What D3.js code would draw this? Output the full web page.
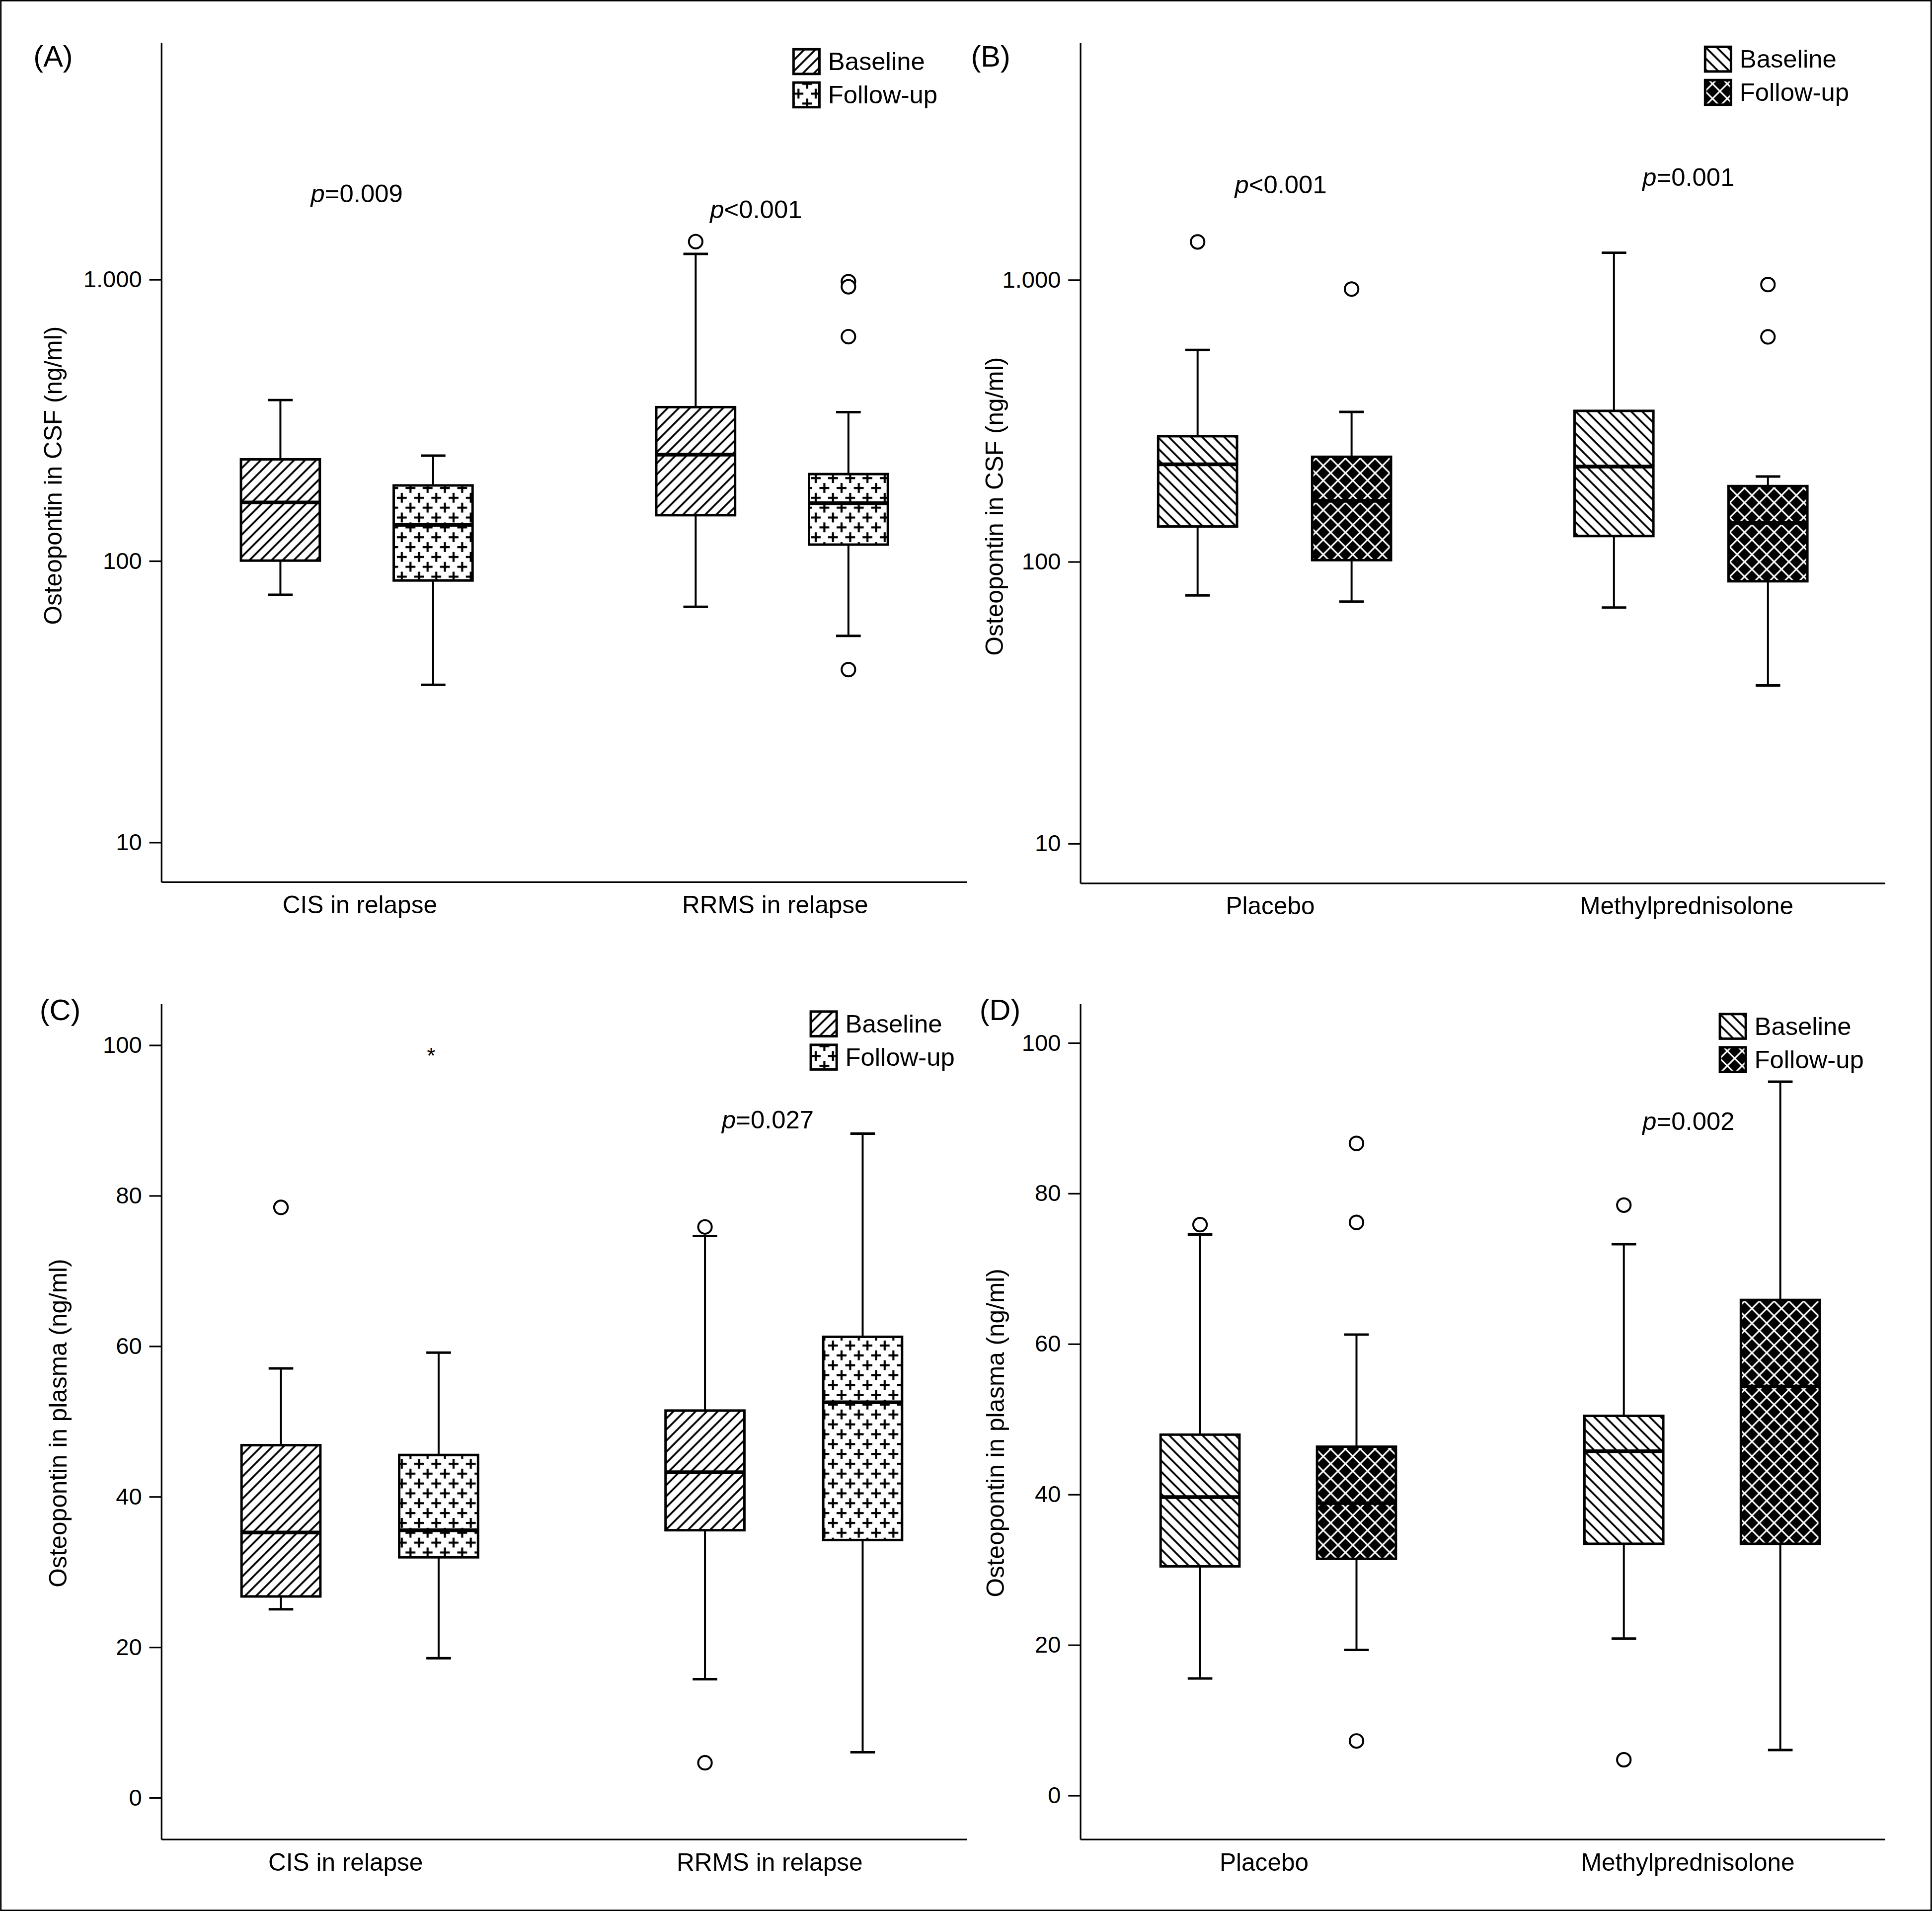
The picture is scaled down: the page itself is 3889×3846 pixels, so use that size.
<!DOCTYPE html>
<html><head><meta charset="utf-8">
<script src="https://cdn.jsdelivr.net/npm/d3@7"></script>
<style>body{margin:0;background:#fff}text{font-family:"Liberation Sans",Arial,sans-serif;fill:#000}</style>
</head><body>
<script>
// data (stats per box: lo whisker, q1, median, q3, hi whisker, outliers)
var groupsAC = ["CIS in relapse", "RRMS in relapse"];
var groupsBD = ["Placebo", "Methylprednisolone"];
var seriesAC = ["Baseline", "Follow-up"];
var logTicks = [10, 100, 1000];
var linTicks = [0, 20, 40, 60, 80, 100];

var boxesA = [
  {g:0, s:0, lo:75.6, q1:100, med:161, q3:229, hi:372, out:[]},
  {g:0, s:1, lo:36.2, q1:85, med:134, q3:185, hi:236, out:[]},
  {g:1, s:0, lo:68.5, q1:145, med:238, q3:351, hi:1230, out:[1360]},
  {g:1, s:1, lo:54, q1:114, med:160, q3:203, hi:337, out:[980, 940, 625, 41]}
];
var boxesB = [
  {g:0, s:0, lo:75.7, q1:133, med:221, q3:278, hi:563, out:[1360]},
  {g:0, s:1, lo:72, q1:101, med:164, q3:235, hi:339, out:[925]},
  {g:1, s:0, lo:68.6, q1:123, med:217, q3:342, hi:1245, out:[]},
  {g:1, s:1, lo:36.3, q1:85, med:137, q3:185, hi:200, out:[960, 626]}
];
var boxesC = [
  {g:0, s:0, lo:25.0, q1:26.7, med:35.2, q3:46.8, hi:57, out:[78.4]},
  {g:0, s:1, lo:18.5, q1:31.9, med:35.5, q3:45.5, hi:59.1, out:[], ext:[99.2]},
  {g:1, s:0, lo:15.7, q1:35.5, med:43.2, q3:51.4, hi:74.6, out:[75.8, 4.6]},
  {g:1, s:1, lo:6, q1:34.2, med:52.5, q3:61.2, hi:88.2, out:[]}
];
var boxesD = [
  {g:0, s:0, lo:15.5, q1:30.4, med:39.6, q3:47.9, hi:74.5, out:[75.8]},
  {g:0, s:1, lo:19.3, q1:31.4, med:38.8, q3:46.3, hi:61.2, out:[86.6, 76.1, 7.2]},
  {g:1, s:0, lo:20.8, q1:33.4, med:45.7, q3:50.4, hi:73.2, out:[78.4, 4.7]},
  {g:1, s:1, lo:6, q1:33.4, med:54.3, q3:65.8, hi:94.8, out:[]}
];
var pA = [{g:0, dx:0, y:164, t:"=0.009"}, {g:1, dx:-13, y:177, t:"<0.001"}];
var pB = [{g:0, dx:5, y:157, t:"<0.001"}, {g:1, dx:-2, y:151, t:"=0.001"}];
var pC = [{g:1, dx:-13, y:916, t:"=0.027"}];
var pD = [{g:1, dx:-11, y:917, t:"=0.002"}];

var W = 1568, H = 1551;
var svg = d3.select("body").append("svg")
  .attr("width", 3889).attr("height", 3846)
  .attr("viewBox", "0 0 " + W + " " + H);
svg.append("rect").attr("x", 0.5).attr("y", 0.5).attr("width", W - 1).attr("height", H - 1)
  .attr("fill", "#fff").attr("stroke", "#000").attr("stroke-width", 1.2);

var defs = svg.append("defs");
function hatch(id, dir) {
  var p = defs.append("pattern").attr("id", id).attr("patternUnits", "userSpaceOnUse")
    .attr("width", 9).attr("height", 9);
  p.append("rect").attr("width", 9).attr("height", 9).attr("fill", "#fff");
  var d = dir > 0 ? "M-1,1 l2,-2 M0,9 l9,-9 M8,10 l2,-2" : "M-1,8 l2,2 M0,0 l9,9 M8,-1 l2,2";
  p.append("path").attr("d", d).attr("stroke", "#000").attr("stroke-width", 1.5);
}
hatch("fwd", 1);
hatch("back", -1);
var pl = defs.append("pattern").attr("id", "plus").attr("patternUnits", "userSpaceOnUse")
  .attr("width", 14).attr("height", 16);
pl.append("rect").attr("width", 14).attr("height", 16).attr("fill", "#fff");
pl.append("path").attr("d", "M0,4 h8 M4,0 v8 M7,12 h8 M11,8 v8 M-7,12 h8 M-3,8 v8")
  .attr("stroke", "#000").attr("stroke-width", 1.7);
var cx = defs.append("pattern").attr("id", "cross").attr("patternUnits", "userSpaceOnUse")
  .attr("width", 12).attr("height", 12);
cx.append("rect").attr("width", 12).attr("height", 12).attr("fill", "#000");
cx.append("path").attr("d", "M0,0 l12,12 M12,0 l-12,12").attr("stroke", "#fff").attr("stroke-width", 1.3);

function panel(o) {
  var g = svg.append("g");
  var y = o.log ? d3.scaleLog().domain(o.dom).range([o.y1, o.y0])
                : d3.scaleLinear().domain(o.dom).range([o.y1, o.y0]);
  var x = d3.scalePoint().domain(o.groups).range([o.x0, o.x1]).padding(o.pad);
  var fills = o.fills;

  var ax = g.append("g").attr("transform", "translate(" + o.x0 + ",0)")
    .call(d3.axisLeft(y).tickValues(o.ticks).tickSize(10).tickPadding(6)
      .tickFormat(function (d) { return d === 1000 ? "1.000" : d; }));
  ax.select(".domain").attr("d", "M0," + o.y0 + "V" + o.y1).attr("stroke-width", 1.3);
  ax.selectAll(".tick line").attr("stroke-width", 1.3);
  ax.selectAll("text").attr("font-size", 19).attr("font-family", "Liberation Sans");

  var bx = g.append("g").attr("transform", "translate(" + o.catShift + "," + o.y1 + ")")
    .call(d3.axisBottom(x).tickSize(0).tickPadding(11));
  bx.select(".domain").attr("d", "M" + (o.x0 - o.catShift) + ",0H" + (o.x1 - o.catShift)).attr("stroke-width", 1.3);
  bx.selectAll("text").attr("font-size", 20).attr("font-family", "Liberation Sans");

  g.append("text").attr("transform", "translate(" + o.ylx + "," + o.ylc + ") rotate(-90)")
    .attr("text-anchor", "middle").attr("font-size", 20).text(o.ylab);
  g.append("text").attr("x", o.lx).attr("y", o.ly).attr("font-size", 24).text(o.label);

  var bw = 64;
  o.boxes.forEach(function (b) {
    var c = x(o.groups[b.g]) + (b.s ? o.off : -o.off) + o.shift;
    var bg = g.append("g").attr("stroke", "#000").attr("stroke-width", 1.6);
    bg.append("line").attr("x1", c).attr("x2", c).attr("y1", y(b.hi)).attr("y2", y(b.lo));
    [b.hi, b.lo].forEach(function (v) {
      bg.append("line").attr("x1", c - 10).attr("x2", c + 10).attr("y1", y(v)).attr("y2", y(v)).attr("stroke-width", 2);
    });
    bg.append("rect").attr("x", c - bw / 2).attr("y", y(b.q3)).attr("width", bw)
      .attr("height", y(b.q1) - y(b.q3)).attr("fill", fills[b.s]).attr("stroke-width", 2);
    bg.append("line").attr("x1", c - bw / 2).attr("x2", c + bw / 2).attr("y1", y(b.med)).attr("y2", y(b.med))
      .attr("stroke-width", 3);
    b.out.forEach(function (v) {
      bg.append("circle").attr("cx", c).attr("cy", y(v)).attr("r", 5.5).attr("fill", "#fff").attr("stroke-width", 1.6);
    });
    (b.ext || []).forEach(function (v) {
      g.append("text").attr("x", c - 6).attr("y", y(v) + 10).attr("text-anchor", "middle").attr("font-size", 18).text("*");
    });
  });

  o.p.forEach(function (p) {
    var t = g.append("text").attr("x", x(o.groups[p.g]) + p.dx + o.shift)
      .attr("y", p.y).attr("text-anchor", "middle").attr("font-size", 20.5);
    t.append("tspan").attr("font-style", "italic").text("p");
    t.append("tspan").text(p.t);
  });

  var lg = g.append("g").attr("transform", "translate(" + o.lgx + "," + o.lgy + ")");
  o.series.forEach(function (s, i) {
    lg.append("rect").attr("x", 0).attr("y", i * 27).attr("width", 21).attr("height", 20)
      .attr("fill", fills[i]).attr("stroke", "#000").attr("stroke-width", 2);
    lg.append("text").attr("x", 28).attr("y", i * 27 + 17).attr("font-size", 20.5).text(s);
  });
}

panel({label:"(A)", lx:27, ly:54, x0:131, x1:785, y0:35, y1:716, log:true, dom:[7.2, 6900],
  ticks:logTicks, groups:groupsAC, pad:0.47, shift:0, off:62, catShift:2, boxes:boxesA, p:pA, series:seriesAC,
  fills:["url(#fwd)", "url(#plus)"], lgx:644, lgy:40, ylab:"Osteopontin in CSF (ng/ml)", ylx:50, ylc:386});
panel({label:"(B)", lx:788, ly:54, x0:877, x1:1530, y0:35, y1:717, log:true, dom:[7.2, 6900],
  ticks:logTicks, groups:groupsBD, pad:0.466, shift:0, off:62.5, catShift:-4, boxes:boxesB, p:pB, series:seriesAC,
  fills:["url(#back)", "url(#cross)"], lgx:1384, lgy:38, ylab:"Osteopontin in CSF (ng/ml)", ylx:814, ylc:411});
panel({label:"(C)", lx:32, ly:828, x0:131, x1:785, y0:815, y1:1493, log:false, dom:[-5.6, 105.4],
  ticks:linTicks, groups:groupsAC, pad:0.45, shift:6, off:64, catShift:-6, boxes:boxesC, p:pC, series:seriesAC,
  fills:["url(#fwd)", "url(#plus)"], lgx:658, lgy:821, ylab:"Osteopontin in plasma (ng/ml)", ylx:54, ylc:1155});
panel({label:"(D)", lx:795, ly:828, x0:877, x1:1530, y0:815, y1:1493, log:false, dom:[-5.9, 105.1],
  ticks:linTicks, groups:groupsBD, pad:0.449, shift:6, off:63.5, catShift:-6, boxes:boxesD, p:pD, series:seriesAC,
  fills:["url(#back)", "url(#cross)"], lgx:1396, lgy:823, ylab:"Osteopontin in plasma (ng/ml)", ylx:815, ylc:1163});
</script>
</body></html>
